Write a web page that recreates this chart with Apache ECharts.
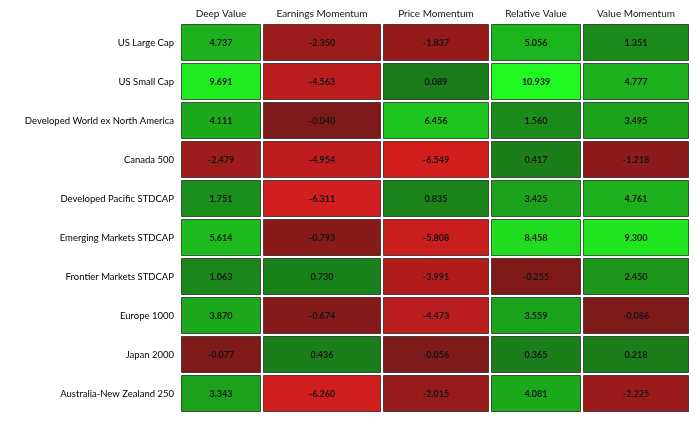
<!DOCTYPE html>
<html>
<head>
<meta charset="utf-8">
<script src="https://cdn.jsdelivr.net/npm/echarts@6/dist/echarts.min.js"></script>
<style>html,body{margin:0;padding:0;background:#fff}#c{width:700px;height:435px}</style>
</head>
<body>
<div id="c"></div>
<script>
var rowNames = ["US Large Cap", "US Small Cap", "Developed World ex North America", "Canada 500",
  "Developed Pacific STDCAP", "Emerging Markets STDCAP", "Frontier Markets STDCAP", "Europe 1000",
  "Japan 2000", "Australia-New Zealand 250"];
var colNames = ["Deep Value", "Earnings Momentum", "Price Momentum", "Relative Value", "Value Momentum"];
var deepValue        = [4.737, 9.691, 4.111, -2.479, 1.751, 5.614, 1.063, 3.870, -0.077, 3.343];
var earningsMomentum = [-2.350, -4.563, -0.040, -4.954, -6.311, -0.793, 0.730, -0.674, 0.436, -6.260];
var priceMomentum    = [-1.837, 0.089, 6.456, -6.549, 0.835, -5.808, -3.991, -4.473, -0.056, -2.015];
var relativeValue    = [5.056, 10.939, 1.560, 0.417, 3.425, 8.458, -0.255, 3.559, 0.365, 4.081];
var valueMomentum    = [1.351, 4.777, 3.495, -1.218, 4.761, 9.300, 2.450, -0.086, 0.218, -2.225];
var columns = [deepValue, earningsMomentum, priceMomentum, relativeValue, valueMomentum];

// layout (pixels)
var gridLefts  = [180, 262, 382, 490, 582];
var gridWidths = [82, 120, 108, 92, 108];
var FONT = "Lato, 'Open Sans', 'Liberation Sans', sans-serif";

function cellColor(v) {
  var r, g, b, t;
  if (v >= 0) {
    t = Math.min(v / 11, 1);
    r = 26 + t * 6; g = 122 + t * 128; b = 26 + t * 6;
  } else {
    t = Math.min(-v / 6.6, 1);
    r = 125 + t * 88; g = 26 + t * 4; b = 26 + t * 4;
  }
  return 'rgb(' + Math.round(r) + ',' + Math.round(g) + ',' + Math.round(b) + ')';
}

function renderItem(params, api) {
  var v = api.value(2);
  var c = api.coord([api.value(0), api.value(1)]);
  var s = api.size([1, 1]);
  var x0 = Math.round(c[0] - s[0] / 2 + 1) + 0.5;
  var y0 = Math.round(c[1] - s[1] / 2 + 1) + 0.5;
  var x1 = Math.round(c[0] + s[0] / 2 - 1) - 0.5;
  var y1 = Math.round(c[1] + s[1] / 2 - 1) - 0.5;
  return {
    type: 'group',
    children: [
      { type: 'rect', shape: { x: x0, y: y0, width: x1 - x0, height: y1 - y0 },
        style: { fill: cellColor(v), stroke: 'rgba(0,0,0,0.6)', lineWidth: 1 } },
      { type: 'text', style: { text: v.toFixed(3), x: c[0], y: c[1] + 0.5, align: 'center', verticalAlign: 'middle',
        fill: '#151515', font: 'bold 9px ' + FONT } }
    ]
  };
}

var grids = [], xAxes = [], yAxes = [], series = [];
colNames.forEach(function (name, i) {
  grids.push({ left: gridLefts[i], width: gridWidths[i], top: 23, height: 390 });
  xAxes.push({ type: 'category', gridIndex: i, data: [name], position: 'top',
    axisLine: { show: false }, axisTick: { show: false }, splitLine: { show: false },
    axisLabel: { margin: 4, fontSize: 10, color: '#111', fontFamily: FONT, fontWeight: 'normal' } });
  yAxes.push({ type: 'category', gridIndex: i, data: rowNames, inverse: true,
    axisLine: { show: false }, axisTick: { show: false }, splitLine: { show: false },
    axisLabel: { show: i === 0, margin: 6, fontSize: 9.5, color: '#000', fontFamily: FONT, fontWeight: 'normal' } });
  series.push({ type: 'custom', xAxisIndex: i, yAxisIndex: i, renderItem: renderItem,
    encode: { x: 0, y: 1 },
    data: columns[i].map(function (v, r) { return [0, r, v]; }) });
});

var chart = echarts.init(document.getElementById('c'), null, { renderer: 'canvas' });
chart.setOption({ animation: false, backgroundColor: '#fff', grid: grids, xAxis: xAxes, yAxis: yAxes, series: series });
</script>
</body>
</html>
